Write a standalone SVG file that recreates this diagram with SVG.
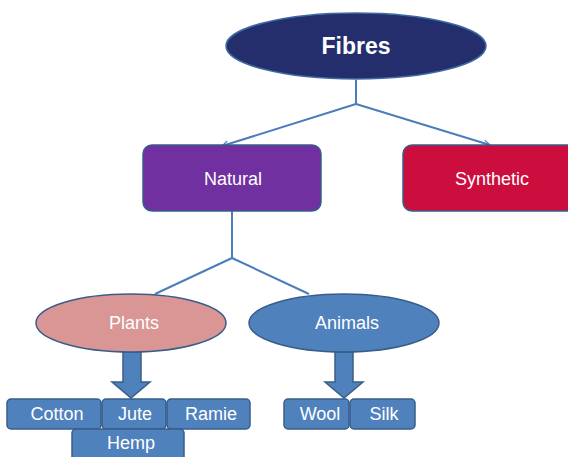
<svg xmlns="http://www.w3.org/2000/svg" width="568" height="457" viewBox="0 0 568 457">
<defs>
<style>
.t{font-family:"Liberation Sans",Arial,sans-serif;fill:#fff;text-anchor:middle;dominant-baseline:central;font-size:18px}
.c{fill:none;stroke:#4a7ebb;stroke-width:2}
.box{fill:#4f81bd;stroke:#385d8a;stroke-width:1.5}
</style>
<marker id="ah" viewBox="0 0 10 10" refX="9" refY="5" markerWidth="8" markerHeight="8" orient="auto" markerUnits="userSpaceOnUse">
<path d="M1,1 L9,5 L1,9" fill="none" stroke="#4a7ebb" stroke-width="1.5"/>
</marker>
</defs>
<rect width="568" height="457" fill="#fff"/>
<g id="connectors">
<path class="c" d="M356,80 V104"/>
<path class="c" d="M356,104 L222,146" marker-end="url(#ah)"/>
<path class="c" d="M356,104 L490,145" marker-end="url(#ah)"/>
<path class="c" d="M232,211 V258 L155,294"/>
<path class="c" d="M232,258 L309,294"/>
<path class="box" d="M123,352 H141 V382 H150 L131,398 L112,382 H123 Z"/>
<path class="box" d="M335,352 H353 V382 H363 L344,398 L325,382 H335 Z"/>
</g>
<g id="fibres">
<ellipse cx="356" cy="46" rx="130" ry="33" fill="#242e6d" stroke="#3e6aa0" stroke-width="1.5"/>
<text class="t" x="356" y="46" style="font-size:23px" font-weight="bold">Fibres</text>
</g>
<g id="natural">
<rect x="143" y="145" width="178" height="66" rx="9" fill="#7030a0" stroke="#385d8a" stroke-width="1.5"/>
<text class="t" x="233" y="179">Natural</text>
</g>
<g id="synthetic">
<rect x="403" y="145" width="175" height="66" rx="9" fill="#cc0e3f" stroke="#385d8a" stroke-width="1.5"/>
<text class="t" x="492" y="179">Synthetic</text>
</g>
<g id="plants">
<ellipse cx="131" cy="323" rx="95" ry="29" fill="#d99694" stroke="#385d8a" stroke-width="1.5"/>
<text class="t" x="134" y="323">Plants</text>
</g>
<g id="animals">
<ellipse cx="344" cy="323" rx="95" ry="29" fill="#4f81bd" stroke="#385d8a" stroke-width="1.5"/>
<text class="t" x="347" y="323">Animals</text>
</g>
<g id="cotton"><rect class="box" x="7" y="399" width="94" height="30" rx="4"/><text class="t" x="57" y="414">Cotton</text></g>
<g id="jute"><rect class="box" x="102" y="399" width="64" height="30" rx="4"/><text class="t" x="135" y="414">Jute</text></g>
<g id="ramie"><rect class="box" x="167" y="399" width="83" height="30" rx="4"/><text class="t" x="211" y="414">Ramie</text></g>
<g id="hemp"><rect class="box" x="72" y="429" width="112" height="32" rx="4"/><text class="t" x="131" y="443">Hemp</text></g>
<g id="wool"><rect class="box" x="284" y="399" width="65" height="30" rx="4"/><text class="t" x="320" y="414">Wool</text></g>
<g id="silk"><rect class="box" x="350" y="399" width="65" height="30" rx="4"/><text class="t" x="384" y="414">Silk</text></g>
</svg>
